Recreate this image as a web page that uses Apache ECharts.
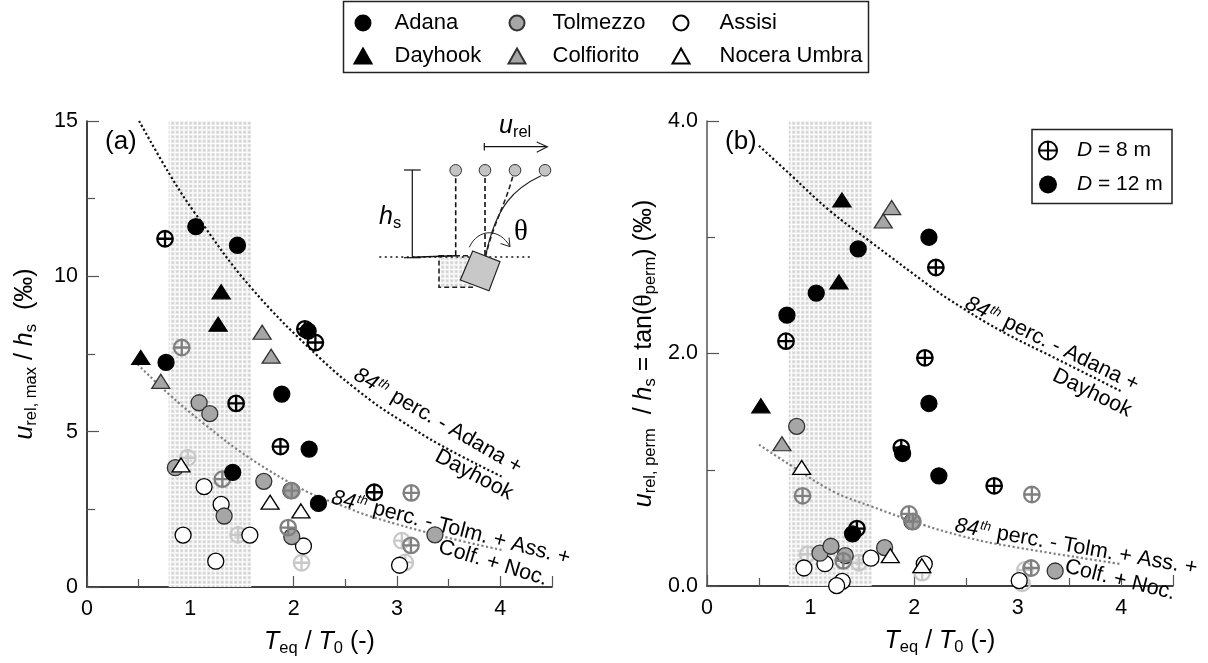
<!DOCTYPE html>
<html><head><meta charset="utf-8">
<style>html,body{margin:0;padding:0;background:#fff}#c{width:1208px;height:663px}</style>
<script src="https://cdn.jsdelivr.net/npm/echarts@6/dist/echarts.min.js"></script></head>
<body><div id="c"></div>
<script>
// ---- Panel (a): T_eq/T_0 vs u_rel,max/h_s
const adanaD12A=[[1.053,11.6],[1.456,11.0],[2.14,8.24],[0.765,7.23],[1.885,6.21],[2.15,4.44],[1.41,3.69],[2.24,2.69]];
const adanaD8A=[[0.755,11.21],[2.108,8.31],[2.21,7.87],[1.443,5.91],[1.872,4.52],[2.78,3.05]];
const dayhookA=[[1.298,9.5],[1.269,8.46],[0.52,7.39]];
const tolmezzoD12A=[[1.085,5.93],[1.188,5.58],[0.855,3.84],[1.327,2.285],[1.711,3.4],[1.982,1.62],[1.973,3.1],[3.367,1.68]];
const tolmezzoD8A=[[0.917,7.71],[1.31,3.47],[1.982,3.1],[1.947,1.91],[3.138,3.03],[3.135,1.34]];
const colfioritoA=[[1.695,8.2],[1.782,7.43],[0.714,6.62]];
const assisiD12A=[[1.133,3.23],[1.298,2.66],[0.93,1.67],[1.576,1.67],[1.246,0.83],[2.095,1.32],[3.025,0.7]];
const assisiD8A=[[0.975,4.16],[1.462,1.68],[2.076,0.78],[3.047,1.49],[3.08,0.79]];
const noceraA=[[0.91,3.93],[1.772,2.73],[2.07,2.45]];
const upperCurveA=[[0.504,15],[0.804,13.26],[1.046,12.03],[1.579,9.67],[2.257,7.36],[2.74,6.02],[3.03,5.37],[3.42,4.57],[4.016,3.55]];
const lowerCurveA=[[0.49,7.17],[0.785,6.23],[1.127,5.27],[1.579,4.14],[2.127,3.07],[2.45,2.64],[2.757,2.26],[3.45,1.62],[4.016,1.19]];
// ---- Panel (b): T_eq/T_0 vs u_rel,perm/h_s
const adanaD12B=[[0.772,2.33],[1.055,2.52],[1.46,2.9],[2.143,3.0],[2.143,1.57],[1.889,1.14],[2.239,0.948],[1.406,0.448]];
const adanaD8B=[[0.763,2.106],[2.21,2.74],[2.104,1.963],[1.876,1.19],[1.448,0.494],[2.773,0.862]];
const dayhookB=[[1.303,3.32],[1.274,2.615],[0.52,1.55]];
const tolmezzoD12B=[[0.866,1.373],[1.091,0.282],[1.197,0.342],[1.335,0.261],[1.715,0.33],[1.979,0.554],[3.362,0.129]];
const tolmezzoD8B=[[0.923,0.776],[1.316,0.216],[1.988,0.554],[1.95,0.62],[3.137,0.787],[3.13,0.155]];
const colfioritoB=[[1.783,3.255],[1.702,3.14],[0.724,1.224]];
const assisiD12B=[[0.936,0.155],[1.139,0.192],[1.306,0.04],[1.252,0.003],[1.583,0.239],[2.098,0.19],[3.015,0.046]];
const assisiD8B=[[0.972,0.273],[1.467,0.2],[2.078,0.115],[3.07,0.138],[3.043,0.023]];
const noceraB=[[0.914,1.02],[1.77,0.261],[2.075,0.175]];
const upperCurveB=[[0.502,3.787],[0.8,3.543],[1.187,3.227],[1.59,2.954],[2.152,2.58],[2.346,2.46],[2.828,2.2],[3.407,1.94],[4.0,1.675]];
const lowerCurveB=[[0.502,1.216],[0.8,1.043],[1.219,0.813],[1.59,0.684],[2.088,0.526],[2.442,0.434],[2.796,0.362],[3.986,0.19]];
const bandRange=[0.79,1.59];
const legendColumns=[['Adana','Dayhook'],['Tolmezzo','Colfiorito'],['Assisi','Nocera Umbra']];
const legendD=['D = 8 m','D = 12 m'];
const xTicks=[0,1,2,3,4];

const FONT='"Liberation Sans", Arial, sans-serif';
const CROSS='path://M0 -10A10 10 0 1 1 0 10A10 10 0 1 1 0 -10ZM-10 0L10 0M0 -10L0 10';
const BLACK='#000',GREY='#a6a6a6',EDGE='#333',TOL8='#808080',ASS8='#c8c8c8',TICK='#555';

function dotPattern(){
  const c=document.createElement('canvas');c.width=9;c.height=9;
  const g=c.getContext('2d');g.fillStyle='#fcfcfc';g.fillRect(0,0,9,9);
  [0,4.5].forEach(px=>[0,4.5].forEach(py=>{
    g.fillStyle='#e6e6e6';g.fillRect(px,py,3.4,3.4);
    g.fillStyle='#cfcfcf';g.fillRect(px+0.8,py+0.8,1.8,1.8);
  }));
  return {image:c,repeat:'repeat'};
}
const pattern=dotPattern();

function circle(name,data,i,fill,edge,z){return {name,type:'scatter',xAxisIndex:i,yAxisIndex:i,data,symbol:'circle',symbolSize:16,clip:false,z,
  itemStyle:{color:fill,borderColor:edge,borderWidth:1.3,opacity:1}};}
function tri(name,data,i,fill,edge,z){return {name,type:'scatter',xAxisIndex:i,yAxisIndex:i,data,symbol:'triangle',symbolSize:[18,14],clip:false,z,
  itemStyle:{color:fill,borderColor:edge,borderWidth:1.3,opacity:1}};}
function cross(name,data,i,col,z){return {name,type:'scatter',xAxisIndex:i,yAxisIndex:i,data,symbol:CROSS,symbolSize:15.5,clip:false,z,
  itemStyle:{color:'rgba(255,255,255,0)',borderColor:col,borderWidth:2.3,opacity:1}};}
function curve(name,data,i,col){return {name,type:'line',xAxisIndex:i,yAxisIndex:i,data,smooth:0.4,showSymbol:false,silent:true,z:3,
  lineStyle:{color:col,width:2.2,type:[2.2,2.4]}};}
function band(i){return {name:'band'+i,type:'scatter',xAxisIndex:i,yAxisIndex:i,data:[],z:1,silent:true,
  markArea:{silent:true,itemStyle:{color:pattern},data:[[{xAxis:bandRange[0]},{xAxis:bandRange[1]}]]}};}

function panelSeries(i,d){return [band(i),
  curve('upper'+i,d.up,i,'#111'),curve('lower'+i,d.low,i,'#808080'),
  cross('Assisi D8',d.a8,i,ASS8,4),circle('Assisi',d.a12,i,'#fff',BLACK,5),
  circle('Tolmezzo',d.t12,i,GREY,EDGE,6),cross('Tolmezzo D8',d.t8,i,TOL8,7),
  tri('Colfiorito',d.cf,i,GREY,EDGE,6),tri('Nocera Umbra',d.nc,i,'#fff',BLACK,8),
  circle('Adana',d.ad12,i,BLACK,BLACK,9),tri('Dayhook',d.dh,i,BLACK,BLACK,9),cross('Adana D8',d.ad8,i,BLACK,10)];}

const nameRich={i:{fontStyle:'italic',fontFamily:FONT,fontSize:25,color:BLACK},
  t:{fontFamily:FONT,fontSize:25,color:BLACK},
  sub:{fontFamily:FONT,fontSize:16.5,color:BLACK,padding:[12,0,0,0]},
  sy:{fontFamily:'"Liberation Serif",serif',fontSize:26,color:BLACK}};
function xAxis(i){return {gridIndex:i,type:'value',min:0,max:4.5,interval:1,
  name:'{i|T}{sub|eq}{t| / }{i|T}{sub|0}{t| (-)}',nameLocation:'middle',nameGap:41,nameTextStyle:{rich:nameRich},
  axisLine:{onZero:false,lineStyle:{color:BLACK,width:1.5}},
  axisTick:{inside:true,length:11,lineStyle:{color:TICK,width:1.2}},
  minorTick:{show:true,splitNumber:2,length:8,lineStyle:{color:TICK,width:1.2}},
  splitLine:{show:false},minorSplitLine:{show:false},
  axisLabel:{fontFamily:FONT,fontSize:21.5,color:BLACK,margin:11,formatter:v=>xTicks.includes(v)?String(v):''}};}
function yAxis(i,max,itv,fmt,name,gap,col){return {gridIndex:i,type:'value',min:0,max,interval:itv,
  name,nameLocation:'middle',nameRotate:90,nameGap:gap,nameTextStyle:{rich:nameRich},
  axisLine:{show:true,onZero:false,lineStyle:{color:col,width:1.5}},
  axisTick:{show:true,inside:true,length:12,lineStyle:{color:TICK,width:1.2}},
  minorTick:{show:true,splitNumber:2,length:8,lineStyle:{color:TICK,width:1.2}},
  splitLine:{show:false},minorSplitLine:{show:false},
  axisLabel:{fontFamily:FONT,fontSize:21.5,color:BLACK,margin:9,formatter:fmt}};}

const ital84={i:{fontFamily:FONT,fontStyle:'italic',fontSize:21.5,color:BLACK},
  s:{fontFamily:FONT,fontStyle:'italic',fontSize:13,color:BLACK,verticalAlign:'top',padding:[0,1,8,1]},
  t:{fontFamily:FONT,fontSize:21.5,color:BLACK}};
function rotText(x,y,deg,text){return {type:'text',x,y,rotation:-deg*Math.PI/180,z:20,silent:true,
  style:{text,rich:ital84,align:'center',verticalAlign:'middle',fontFamily:FONT,fontSize:21.5,fill:BLACK}};}
function plain(x,y,text,size,extra){return {type:'text',x,y,z:20,silent:true,
  style:Object.assign({text,fontFamily:FONT,fontSize:size,fill:BLACK,align:'left',verticalAlign:'middle'},extra||{})};}
function ln(x1,y1,x2,y2,w,dash,col){return {type:'line',z:15,silent:true,shape:{x1,y1,x2,y2},
  style:{stroke:col||'#111',lineWidth:w||1.2,lineDash:dash||null}};}
function poly(points,close,fill,w){return {type:close?'polygon':'polyline',z:16,silent:true,shape:{points},
  style:{fill:fill||null,stroke:'#222',lineWidth:w||1.2}};}

const insetRich={i:{fontFamily:FONT,fontStyle:'italic',fontSize:25,color:BLACK},
  sub:{fontFamily:FONT,fontSize:16.5,color:BLACK,padding:[12,0,0,0]}};
const inset=[
  ln(484.3,146.7,547.3,146.7),ln(484.3,143,484.3,150.5),poly([[536.7,142],[547.3,146.7],[536.7,152.3]],false),
  {type:'text',x:499,y:126,z:20,silent:true,style:{text:'{i|u}{sub|rel}',rich:insetRich,align:'left',verticalAlign:'middle'}},
  ln(412.3,170,412.3,257.7),ln(404,170,420.7,170),ln(404,257.7,420.7,257.7),
  {type:'text',x:379,y:217,z:20,silent:true,style:{text:'{i|h}{sub|s}',rich:insetRich,align:'left',verticalAlign:'middle'}},
  ln(379.3,257,533.3,257,1.4,[2,3.5]),
  {type:'rect',z:14,silent:true,shape:{x:439,y:255.7,width:33.3,height:31.6},style:{fill:pattern,stroke:'#222',lineWidth:1.6,lineDash:[5,3]}},
  ln(412.3,257.3,455.7,255.7,1.4),
  ln(455.7,178.3,455.7,255.7,1.6,[5,3]),ln(485,178,485,255.7,1.6,[5,3]),
  {type:'bezierCurve',z:15,silent:true,shape:{x1:512.7,y1:176.7,cpx1:505,cpy1:205,cpx2:494,cpy2:222,x2:485.7,y2:255.7},style:{stroke:'#222',lineWidth:1.6,lineDash:[5,3],fill:null}},
  {type:'bezierCurve',z:15,silent:true,shape:{x1:541,y1:175.7,cpx1:515,cpy1:188,cpx2:496,cpy2:205,x2:485.7,y2:255.7},style:{stroke:'#222',lineWidth:1.2,fill:null}},
  ...[455.7,485,515,545].map(x=>({type:'circle',z:16,silent:true,shape:{cx:x,cy:170.3,r:5.8},style:{fill:'#c4c4c4',stroke:'#333',lineWidth:1}})),
  poly([[472.7,251],[500,261.7],[489,290.7],[460.3,280]],true,'#c8c8c8',1.2),
  {type:'bezierCurve',z:17,silent:true,shape:{x1:469.3,y1:247.3,cpx1:478,cpy1:228,cpx2:500,cpy2:228,x2:510,y2:246.7},style:{stroke:'#222',lineWidth:1,fill:null}},
  poly([[500.5,243.5],[510,246.7],[509,237.5]],false,null,1),
  plain(514,232,'θ',29,{fontFamily:'"Liberation Serif",serif'})
];

const option={
  animation:false,backgroundColor:'#fff',
  grid:[{left:87,right:1208-552,top:121,bottom:663-587},{left:707,right:1208-1173,top:121,bottom:663-586}],
  xAxis:[xAxis(0),xAxis(1)],
  yAxis:[
    yAxis(0,15,5,v=>String(v),'{i|u}{sub|rel, max}{t| / }{i|h}{sub|s}{t|  (‰)}',47,BLACK),
    yAxis(1,4,2,v=>v.toFixed(1),'{i|u}{sub|rel, perm}{t|  / }{i|h}{sub|s}{t| = tan(}{sy|θ}{sub|perm}{t|) (‰)}',48,TICK)
  ],
  legend:[
    ...legendColumns.map((data,k)=>({orient:'vertical',left:[353.5,507.5,671.5][k],top:12,itemWidth:17,itemHeight:15,itemGap:11,selectedMode:false,
      padding:0,data,textStyle:{fontFamily:FONT,fontSize:22,color:BLACK,padding:[0,0,0,[18,22,25][k]]}})),
    {orient:'vertical',left:1038,top:140,itemWidth:18,itemHeight:18,itemGap:13,selectedMode:false,padding:0,
      data:[{name:legendD[0],icon:CROSS},{name:legendD[1],icon:'circle'}],
      formatter:n=>'{i|D} = '+n.slice(4),
      textStyle:{fontFamily:FONT,fontSize:21,color:BLACK,padding:[0,0,0,15],rich:{i:{fontFamily:FONT,fontStyle:'italic',fontSize:21,color:BLACK}}}}
  ],
  graphic:{elements:[
    {type:'rect',z:0,silent:true,shape:{x:343.5,y:1.5,width:525,height:71},style:{fill:'#fff',stroke:'#222',lineWidth:1.5}},
    {type:'rect',z:0,silent:true,shape:{x:1032,y:129.5,width:140,height:74},style:{fill:'#fff',stroke:'#222',lineWidth:1.5}},
    plain(105,142,'(a)',26),plain(725,142,'(b)',26),
    rotText(438,421,30,'{i|84}{s|th}{t| perc. - Adana +}'),
    rotText(474,475,28,'{t|Dayhook}'),
    rotText(451,528,14.5,'{i|84}{s|th}{t| perc. - Tolm. + Ass. +}'),
    rotText(493,563,17,'{t|Colf. + Noc.}'),
    rotText(1052,344,26,'{i|84}{s|th}{t| perc. - Adana +}'),
    rotText(1092,393,26,'{t|Dayhook}'),
    rotText(1076,547,10,'{i|84}{s|th}{t| perc. - Tolm. + Ass. +}'),
    rotText(1120,580,14,'{t|Colf. + Noc.}'),
    ...inset
  ]},
  series:[
    ...panelSeries(0,{up:upperCurveA,low:lowerCurveA,a8:assisiD8A,a12:assisiD12A,t12:tolmezzoD12A,t8:tolmezzoD8A,cf:colfioritoA,nc:noceraA,ad12:adanaD12A,dh:dayhookA,ad8:adanaD8A}),
    ...panelSeries(1,{up:upperCurveB,low:lowerCurveB,a8:assisiD8B,a12:assisiD12B,t12:tolmezzoD12B,t8:tolmezzoD8B,cf:colfioritoB,nc:noceraB,ad12:adanaD12B,dh:dayhookB,ad8:adanaD8B}),
    {name:legendD[0],type:'scatter',data:[],xAxisIndex:0,yAxisIndex:0,symbol:CROSS,itemStyle:{color:'rgba(255,255,255,0)',borderColor:BLACK,borderWidth:2.2,opacity:1}},
    {name:legendD[1],type:'scatter',data:[],xAxisIndex:0,yAxisIndex:0,symbol:'circle',itemStyle:{color:BLACK,opacity:1}}
  ]
};
const chart=echarts.init(document.getElementById('c'),null,{renderer:'canvas'});
chart.setOption(option);
</script></body></html>
